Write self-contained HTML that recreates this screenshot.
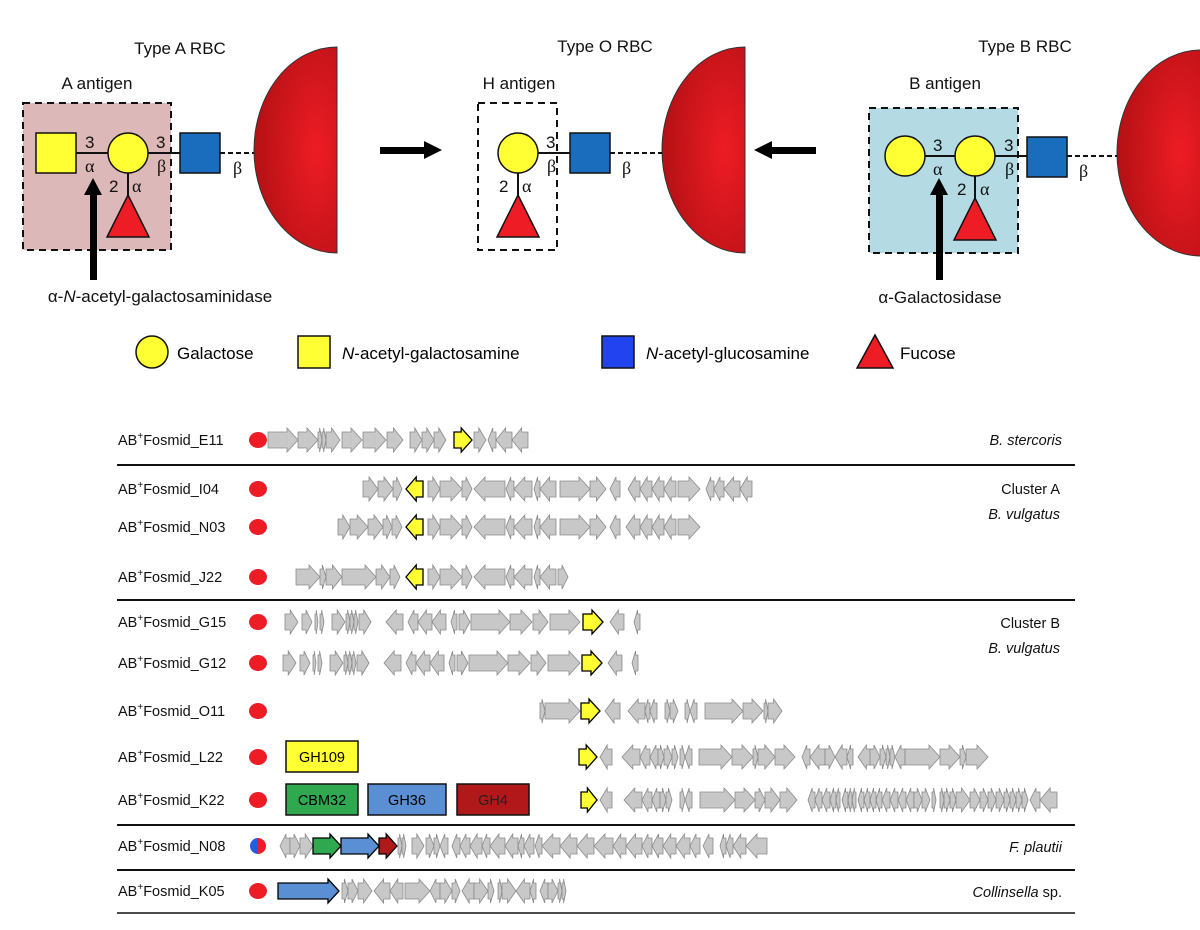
<!DOCTYPE html>
<html><head><meta charset="utf-8"><style>
body{margin:0;background:#fff}
svg{display:block;font-family:"Liberation Sans",Arial,sans-serif}
</style></head><body>
<svg id="s" width="1200" height="930" viewBox="0 0 1200 930" xmlns="http://www.w3.org/2000/svg">
<defs>
<radialGradient id="rg" cx="0.75" cy="0.5" r="0.9">
<stop offset="0" stop-color="#ee1c24"/><stop offset="1" stop-color="#a80e12"/></radialGradient>
</defs>
<g font-size="17" fill="#111">
<text x="180" y="54" text-anchor="middle">Type A RBC</text>
<text x="605" y="52" text-anchor="middle">Type O RBC</text>
<text x="1025" y="52" text-anchor="middle">Type B RBC</text>
<text x="97" y="89" text-anchor="middle">A antigen</text>
<text x="519" y="89" text-anchor="middle">H antigen</text>
<text x="945" y="89" text-anchor="middle">B antigen</text>
</g>
<!-- A -->
<rect x="23" y="103" width="148" height="147" fill="#ddb8b8" stroke="#111" stroke-width="2" stroke-dasharray="7,5"/>
<path d="M337,47 A83,103 0 0 0 337,253 Z" fill="url(#rg)" stroke="#333"/>
<line x1="76" y1="153" x2="180" y2="153" stroke="#111" stroke-width="2"/>
<line x1="220" y1="153" x2="254" y2="153" stroke="#111" stroke-width="2" stroke-dasharray="5,3"/>
<line x1="128" y1="153" x2="128" y2="200" stroke="#111" stroke-width="2"/>
<rect x="36" y="133" width="40" height="40" fill="#ffff33" stroke="#111" stroke-width="1.5"/>
<circle cx="128" cy="153" r="20" fill="#ffff33" stroke="#111" stroke-width="1.5"/>
<rect x="180" y="133" width="40" height="40" fill="#1a6dbd" stroke="#111" stroke-width="1.5"/>
<polygon points="128,195 149,237 107,237" fill="#ee1c24" stroke="#111" stroke-width="1.5"/>
<g font-size="17" fill="#111"><text x="85" y="148">3</text><text x="156" y="148">3</text><text x="109" y="192">2</text></g>
<g font-family="Liberation Serif,serif" font-size="18" fill="#111"><text x="85" y="172">α</text><text x="132" y="192">α</text><text x="157" y="172">β</text><text x="233" y="174">β</text></g>
<rect x="90" y="190" width="7" height="90" fill="#000"/><polygon points="93,178 84,195 102,195" fill="#000"/>
<text x="160" y="302" font-size="17" text-anchor="middle" fill="#111">α-<tspan font-style="italic">N</tspan>-acetyl-galactosaminidase</text>
<!-- O -->
<rect x="478" y="103" width="79" height="147" fill="none" stroke="#111" stroke-width="2" stroke-dasharray="7,5"/>
<path d="M745,47 A83,103 0 0 0 745,253 Z" fill="url(#rg)" stroke="#333"/>
<line x1="518" y1="153" x2="570" y2="153" stroke="#111" stroke-width="2"/>
<line x1="610" y1="153" x2="662" y2="153" stroke="#111" stroke-width="2" stroke-dasharray="5,3"/>
<line x1="518" y1="153" x2="518" y2="200" stroke="#111" stroke-width="2"/>
<circle cx="518" cy="153" r="20" fill="#ffff33" stroke="#111" stroke-width="1.5"/>
<rect x="570" y="133" width="40" height="40" fill="#1a6dbd" stroke="#111" stroke-width="1.5"/>
<polygon points="518,195 539,237 497,237" fill="#ee1c24" stroke="#111" stroke-width="1.5"/>
<g font-size="17" fill="#111"><text x="546" y="148">3</text><text x="499" y="192">2</text></g>
<g font-family="Liberation Serif,serif" font-size="18" fill="#111"><text x="522" y="192">α</text><text x="547" y="172">β</text><text x="622" y="174">β</text></g>
<rect x="380" y="147" width="46" height="7" fill="#000"/><polygon points="442,150 424,141 424,159" fill="#000"/>
<rect x="770" y="147" width="46" height="7" fill="#000"/><polygon points="754,150 772,141 772,159" fill="#000"/>
<!-- B -->
<rect x="869" y="108" width="149" height="145" fill="#b4dae4" stroke="#111" stroke-width="2" stroke-dasharray="7,5"/>
<path d="M1201,50 A84,103 0 0 0 1201,256 Z" fill="url(#rg)" stroke="#333"/>
<line x1="905" y1="156" x2="1027" y2="156" stroke="#111" stroke-width="2"/>
<line x1="1067" y1="156" x2="1117" y2="156" stroke="#111" stroke-width="2" stroke-dasharray="5,3"/>
<line x1="975" y1="156" x2="975" y2="203" stroke="#111" stroke-width="2"/>
<circle cx="905" cy="156" r="20" fill="#ffff33" stroke="#111" stroke-width="1.5"/>
<circle cx="975" cy="156" r="20" fill="#ffff33" stroke="#111" stroke-width="1.5"/>
<rect x="1027" y="137" width="40" height="40" fill="#1a6dbd" stroke="#111" stroke-width="1.5"/>
<polygon points="975,198 996,240 954,240" fill="#ee1c24" stroke="#111" stroke-width="1.5"/>
<g font-size="17" fill="#111"><text x="933" y="151">3</text><text x="1004" y="151">3</text><text x="957" y="195">2</text></g>
<g font-family="Liberation Serif,serif" font-size="18" fill="#111"><text x="933" y="175">α</text><text x="980" y="195">α</text><text x="1005" y="175">β</text><text x="1079" y="177">β</text></g>
<rect x="936" y="190" width="7" height="90" fill="#000"/><polygon points="939,178 930,195 948,195" fill="#000"/>
<text x="940" y="303" font-size="17" text-anchor="middle" fill="#111">α-Galactosidase</text>
<!-- legend -->
<circle cx="152" cy="352" r="16" fill="#ffff33" stroke="#111" stroke-width="1.5"/>
<text x="177" y="359" font-size="17">Galactose</text>
<rect x="298" y="336" width="32" height="32" fill="#ffff33" stroke="#111" stroke-width="1.5"/>
<text x="342" y="359" font-size="17"><tspan font-style="italic">N</tspan>-acetyl-galactosamine</text>
<rect x="602" y="336" width="32" height="32" fill="#2244ee" stroke="#111" stroke-width="1.5"/>
<text x="646" y="359" font-size="17"><tspan font-style="italic">N</tspan>-acetyl-glucosamine</text>
<polygon points="875,335 893,368 857,368" fill="#ee1c24" stroke="#111" stroke-width="1.5"/>
<text x="900" y="359" font-size="17">Fucose</text>
<!-- separators -->
<g stroke="#111"><line x1="117" y1="465" x2="1075" y2="465" stroke-width="2"/><line x1="117" y1="600" x2="1075" y2="600" stroke-width="2"/><line x1="117" y1="825" x2="1075" y2="825" stroke-width="2"/><line x1="117" y1="870" x2="1075" y2="870" stroke-width="2"/><line x1="117" y1="913" x2="1075" y2="913" stroke-width="1.5"/></g>
<g font-size="14.5" fill="#111" text-anchor="end" font-style="italic">
<text x="1062" y="445">B. stercoris</text>
<text x="1060" y="519">B. vulgatus</text>
<text x="1060" y="653">B. vulgatus</text>
<text x="1062" y="852">F. plautii</text>
<text x="1062" y="897"><tspan>Collinsella</tspan><tspan font-style="normal"> sp.</tspan></text>
</g>
<g font-size="14.5" fill="#111" text-anchor="end">
<text x="1060" y="494">Cluster A</text>
<text x="1060" y="628">Cluster B</text>
</g>
<!-- GH boxes -->
<g font-size="14.5" text-anchor="middle">
<rect x="286" y="741" width="72" height="31" fill="#ffff33" stroke="#111" stroke-width="1.5"/><text x="322" y="762">GH109</text>
<rect x="286" y="784" width="72" height="31" fill="#2fa84f" stroke="#111" stroke-width="1.5"/><text x="322" y="805">CBM32</text>
<rect x="368" y="784" width="78" height="31" fill="#5b8fd4" stroke="#111" stroke-width="1.5"/><text x="407" y="805">GH36</text>
<rect x="457" y="784" width="72" height="31" fill="#b0181a" stroke="#111" stroke-width="1.5"/><text x="493" y="805" fill="#222">GH4</text>
</g>
<g id="rows" font-size="14.5" fill="#111"></g>
</svg>
<script>
var rows=[
["E11",440,"268-298r 298-318r 318-322r 322-326r 326-340r 342-362r 363-386r 387-403r 410-422r 422-434r 434-446r 454-472ry 474-486r 488-496l 496-512l 512-528l"],
["I04",489,"363-378r 378-393r 393-402r 406-423ly 428-440r 440-462r 462-472r 474-505l 506-514l 514-532l 534-540l 540-556l 560-590r 590-606r 610-620l 628-640l 640-652l 652-664l 664-676l 678-700r 706-714l 714-724l 724-740l 740-752l"],
["N03",527,"338-350r 350-368r 368-383r 383-392r 392-402r 406-423ly 428-440r 440-462r 462-472r 474-505l 506-514l 514-532l 534-540l 540-556l 560-590r 590-606r 610-620l 626-640l 640-652l 652-664l 664-676l 678-700r"],
["J22",577,"296-320r 320-326r 326-342r 342-376r 376-390r 390-400r 406-423ly 428-440r 440-462r 462-472r 474-505l 506-514l 514-532l 534-540l 540-556l 558-568r"],
["G15",622,"285-298r 302-312r 315-318r 320-324r 332-345r 346-350r 350-354r 354-358r 359-371r 386-403l 408-418l 418-432l 432-446l 451-457l 459-470r 471-510r 510-532r 533-548r 550-580r 583-603ry 610-624l 634-640l"],
["G12",663,"283-296r 300-310r 313-316r 318-322r 330-343r 344-348r 348-352r 352-356r 357-369r 384-401l 406-416l 416-430l 430-444l 449-455l 457-468r 469-508r 508-530r 531-546r 548-580r 582-602ry 608-622l 632-638l"],
["O11",711,"540-545r 545-580r 581-600ry 605-620l 628-645l 645-650l 650-657l 665-670r 670-678r 685-690r 690-697l 705-743r 743-763r 764-768r 768-782r"],
["L22",757,"579-597ry 600-612l 622-640l 640-650l 650-660l 658-664r 664-672r 672-678r 680-685r 685-692l 699-732r 732-753r 753-758r 758-775r 775-795r 802-810l 810-825l 825-835r 835-847l 847-853l 858-872l 870-880r 880-886r 886-890r 890-895r 895-905l 905-940r 940-960r 960-966r 966-988r"],
["K22",800,"581-597ry 600-612l 624-642l 642-652l 652-660l 660-666r 666-672r 680-685r 685-692l 700-735r 735-755r 755-765r 765-780r 780-797r 808-815l 815-822l 822-830l 830-836l 836-840l 842-848l 848-852l 852-856l 858-864l 864-870l 870-876l 876-882l 882-890l 890-898l 898-906l 906-914l 914-922r 922-930r 932-936r 940-944r 944-950r 950-956r 956-970r 970-980r 980-988r 988-996r 996-1004r 1004-1010r 1010-1016r 1016-1022r 1022-1028r 1030-1040l 1040-1057l"],
["N08",846,"280-290l 290-300r 300-313r 313-341rg 341-379rb 379-397rm 398-402r 402-406r 412-424r 426-434r 434-440r 440-448l 452-460l 460-470l 470-482l 482-490l 490-505l 505-518l 518-524l 524-534l 535-542l 542-560l 560-577l 577-594l 594-613l 613-626l 626-642l 642-652l 652-663l 663-676l 676-690l 690-700l 703-713l 720-726l 726-733l 733-746l 746-767l"],
["K05",891,"278-339rb 342-348r 348-358r 358-372r 374-390l 390-403l 405-430r 430-440l 440-452r 452-460r 462-474l 474-488r 488-494r 498-502r 502-516r 516-530l 530-536l 540-548l 548-558r 558-562r 562-566r"]
];
var col={y:["#ffff33","#000"],g:["#2fa84f","#000"],b:["#5b8fd4","#000"],m:["#b0181a","#000"]};
var h="";
rows.forEach(function(r){
 var y=r[1];
 h+='<text x="118" y="'+(y+5)+'">AB<tspan font-size="10" dy="-6">+</tspan><tspan dy="6">Fosmid_'+r[0]+'</tspan></text>';
 if(r[0]=="N08"){h+='<path d="M258,'+(y-8)+' A8,8 0 0 0 258,'+(y+8)+'Z" fill="#2060e0"/><path d="M258,'+(y-8)+' A8,8 0 0 1 258,'+(y+8)+'Z" fill="#ee1c24"/>';}
 else h+='<ellipse cx="258" cy="'+y+'" rx="9" ry="8" fill="#ee1c24"/>';
 r[2].split(" ").forEach(function(t){
  var m=t.match(/(\d+)-(\d+)([rl])([a-z]?)/);var a=+m[1],b=+m[2],d=m[3],c=m[4];
  var L=b-a,hl=Math.min(11,L*0.6),p;
  var f=c?col[c][0]:"#c8c8c8",s=c?"#000":"#8a8a8a";
  if(d=="r"){var k=b-hl;p=[[a,y-8],[k,y-8],[k,y-12],[b,y],[k,y+12],[k,y+8],[a,y+8]];}
  else{var k=a+hl;p=[[b,y-8],[k,y-8],[k,y-12],[a,y],[k,y+12],[k,y+8],[b,y+8]];}
  h+='<polygon points="'+p.map(function(q){return q.join(",")}).join(" ")+'" fill="'+f+'" stroke="'+s+'" stroke-width="'+(c?1.3:0.8)+'"/>';
 });
});
document.getElementById("rows").innerHTML=h;
</script>
</body></html>
